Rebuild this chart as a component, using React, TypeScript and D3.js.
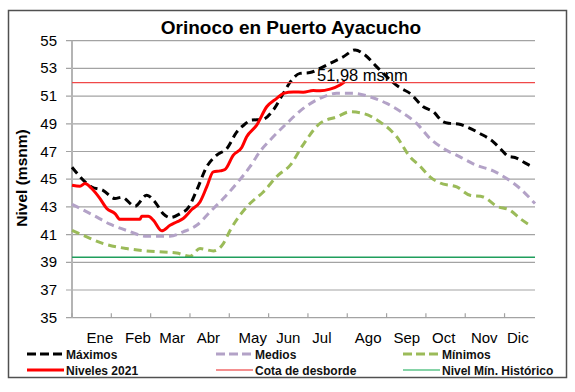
import { useRef, useEffect } from "react";
import * as d3 from "d3";

const months = ["Ene", "Feb", "Mar", "Abr", "May", "Jun", "Jul", "Ago", "Sep", "Oct", "Nov", "Dic"];
const monthLabelDays = [22, 52, 79, 107.5, 142.5, 170.5, 197, 233.5, 264, 293, 325, 351.5];
const yTicks = [35, 37, 39, 41, 43, 45, 47, 49, 51, 53, 55];

const maxDays = [0, 15.5, 24.4, 33.9, 39.2, 49.7, 58.9, 65.4, 72, 77.3, 85.1, 91.7, 98.3, 106.2, 114.1, 122, 129.8, 136, 141.7, 149.8, 158.7, 166.6, 173.2, 179.7, 187.6, 195.5, 203.4, 213.9, 223.1, 231, 238.9, 245.4, 258.6, 266.5, 276.9, 284.8, 292.7, 298, 304.5, 311.2, 321.6, 332.1, 338.7, 343.9, 349.2, 357.1, 364];
const maxVals = [45.86, 44.44, 44.2, 43.6, 43.7, 43.05, 43.85, 43.36, 42.5, 42.23, 42.5, 42.95, 44.2, 45.9, 46.74, 47.2, 48.4, 48.95, 49.27, 49.3, 50.0, 51.2, 52.16, 52.64, 52.7, 53.0, 53.36, 53.84, 54.33, 53.97, 53.24, 52.64, 51.6, 51.2, 50.23, 49.87, 49.14, 49.03, 48.98, 48.78, 48.3, 47.7, 47.1, 46.66, 46.57, 46.18, 45.85];

const medDays = [0, 16.8, 30, 43.1, 58.9, 77.3, 87.7, 98.3, 108.8, 119.3, 129.8, 140.3, 148.2, 156.1, 169.3, 182.3, 195.5, 208.7, 221.8, 234.9, 248.1, 261.2, 271.7, 282.2, 292.7, 305.9, 319, 332.1, 342.7, 353.2, 365];
const medVals = [43.19, 42.4, 41.75, 41.3, 40.88, 40.88, 41.2, 41.67, 42.64, 43.6, 44.69, 45.9, 47.0, 47.82, 49.03, 50.11, 50.84, 51.2, 51.2, 50.95, 50.47, 49.75, 49.03, 47.94, 47.22, 46.61, 46.0, 45.6, 45.05, 44.33, 43.24];

const minDays = [0, 11.6, 24.7, 43.1, 58.9, 72, 82.5, 93, 100.9, 111.4, 119.3, 124.6, 132.4, 140.3, 150.8, 162.6, 171.9, 182.3, 195.5, 208.7, 219.2, 229.6, 242.8, 256, 266.5, 274.3, 282.2, 290.1, 303.3, 313.8, 324.2, 334.8, 345.3, 353.2, 362.4];
const minVals = [41.3, 40.83, 40.35, 39.99, 39.82, 39.74, 39.67, 39.43, 39.99, 39.82, 40.35, 41.3, 42.4, 43.24, 44.08, 45.3, 46.0, 47.5, 49.03, 49.5, 49.87, 49.75, 49.14, 48.06, 46.6, 45.95, 45.17, 44.73, 44.44, 43.84, 43.72, 43.05, 42.76, 42.16, 41.6];

const niv2021Days = [0, 6.3, 10.2, 15.5, 22.1, 27.4, 33.9, 37.8, 45.7, 53.6, 54.9, 60.1, 64.1, 70.7, 77.3, 82.5, 87.7, 94.4, 100.9, 106.2, 111.4, 116.7, 120.6, 127.2, 133.8, 137.7, 145.6, 153.5, 161.4, 166.6, 174.5, 182.3, 190.2, 195.5, 203.4, 211.3, 215.2];
const niv2021Vals = [44.57, 44.5, 44.69, 44.33, 43.6, 42.88, 42.52, 42.1, 42.1, 42.1, 42.32, 42.32, 42.04, 41.27, 41.67, 41.91, 42.16, 42.81, 43.36, 44.44, 45.53, 45.6, 45.7, 46.74, 47.29, 48.06, 48.9, 50.23, 50.84, 51.2, 51.3, 51.28, 51.4, 51.38, 51.5, 51.8, 52.05];

const cotaDesborde = 51.98;
const nivelMinHistorico = 39.36;

const W = 575;
const H = 392;

export default function App() {
  const svgRef = useRef<SVGSVGElement>(null);

  useEffect(() => {
    if (!svgRef.current) return;
    const svg = d3.select(svgRef.current);
    svg.selectAll("*").remove();

    const font = "'Liberation Sans', Arial, sans-serif";
    const left = 72;
    const right = 535;
    const top = 40.7;
    const bottom = 317.7;

    const x = d3.scaleLinear().domain([0, 365]).range([left, right]);
    const y = d3.scaleLinear().domain([35, 55]).range([bottom, top]);

    // frame
    svg.append("rect")
      .attr("x", 8.5).attr("y", 10.5).attr("width", 558).attr("height", 367)
      .attr("fill", "#fff").attr("stroke", "#505050").attr("stroke-width", 1.5);

    // title
    svg.append("text")
      .attr("x", 291).attr("y", 34)
      .attr("text-anchor", "middle")
      .attr("font-family", font).attr("font-weight", "bold").attr("font-size", 19)
      .text("Orinoco en Puerto Ayacucho");

    // grid
    svg.append("g").selectAll("line")
      .data(yTicks)
      .join("line")
      .attr("x1", left - 6).attr("x2", right)
      .attr("y1", (d) => y(d)).attr("y2", (d) => y(d))
      .attr("stroke", "#a3a3a3").attr("stroke-width", 1.2);

    // y axis line
    svg.append("line")
      .attr("x1", left).attr("x2", left).attr("y1", top).attr("y2", bottom)
      .attr("stroke", "#b4b4b4").attr("stroke-width", 2);

    // y tick labels
    svg.append("g").selectAll("text")
      .data(yTicks)
      .join("text")
      .attr("x", 57).attr("y", (d) => y(d) + 5)
      .attr("text-anchor", "end")
      .attr("font-family", font).attr("font-size", 15)
      .text((d) => d);

    // x ticks every 31 days
    svg.append("g").selectAll("line")
      .data(d3.range(0, 366, 31))
      .join("line")
      .attr("x1", (d) => x(d)).attr("x2", (d) => x(d))
      .attr("y1", bottom - 4.5).attr("y2", bottom)
      .attr("stroke", "#a3a3a3").attr("stroke-width", 1.2);

    // month labels
    svg.append("g").selectAll("text")
      .data(months)
      .join("text")
      .attr("x", (_, i) => x(monthLabelDays[i]))
      .attr("y", 343)
      .attr("text-anchor", "middle")
      .attr("font-family", font).attr("font-size", 15)
      .text((d) => d);

    // axis title
    svg.append("text")
      .attr("transform", "translate(27,178) rotate(-90)")
      .attr("text-anchor", "middle")
      .attr("font-family", font).attr("font-weight", "bold").attr("font-size", 15.5)
      .text("Nivel (msnm)");

    const line = d3.line<[number, number]>()
      .x((d) => x(d[0]))
      .y((d) => y(d[1]))
      .curve(d3.curveMonotoneX);

    const series = [
      { days: maxDays, vals: maxVals, color: "#000000", dash: "8,5" },
      { days: medDays, vals: medVals, color: "#b3a2c7", dash: "8,5" },
      { days: minDays, vals: minVals, color: "#9bbb59", dash: "8,5" },
      { days: niv2021Days, vals: niv2021Vals, color: "#ff0000", dash: null },
    ];

    series.forEach((s) => {
      const pts = s.days.map((d, i) => [d, s.vals[i]] as [number, number]);
      svg.append("path")
        .attr("d", line(pts))
        .attr("fill", "none")
        .attr("stroke", s.color)
        .attr("stroke-width", 3)
        .attr("stroke-linejoin", "round")
        .attr("stroke-dasharray", s.dash);
    });

    // reference lines
    svg.append("line")
      .attr("x1", left).attr("x2", right)
      .attr("y1", y(cotaDesborde)).attr("y2", y(cotaDesborde))
      .attr("stroke", "#f04848").attr("stroke-width", 1.3);
    svg.append("line")
      .attr("x1", left).attr("x2", right)
      .attr("y1", y(nivelMinHistorico)).attr("y2", y(nivelMinHistorico))
      .attr("stroke", "#1f9e5c").attr("stroke-width", 1.5);

    svg.append("text")
      .attr("x", 317).attr("y", 81)
      .attr("font-family", font).attr("font-size", 16.5)
      .text(`${String(cotaDesborde).replace(".", ",")} msnm`);

    // legend
    const legend = [
      { label: "Máximos", color: "#000000", dash: "9,4", w: 3, col: 0, row: 0 },
      { label: "Medios", color: "#b3a2c7", dash: "9,4", w: 3, col: 1, row: 0 },
      { label: "Mínimos", color: "#9bbb59", dash: "9,4", w: 3, col: 2, row: 0 },
      { label: "Niveles 2021", color: "#ff0000", dash: null, w: 3, col: 0, row: 1 },
      { label: "Cota de desborde", color: "#f06a6a", dash: null, w: 1.5, col: 1, row: 1 },
      { label: "Nivel Mín. Histórico", color: "#5cc48a", dash: null, w: 1.5, col: 2, row: 1 },
    ];
    const colX = [27, 216, 403];
    const rowY = [354, 370];
    const lg = svg.append("g").selectAll("g").data(legend).join("g")
      .attr("transform", (d) => `translate(${colX[d.col]},${rowY[d.row]})`);
    lg.append("line")
      .attr("x1", 0).attr("x2", 37).attr("y1", 0).attr("y2", 0)
      .attr("stroke", (d) => d.color).attr("stroke-width", (d) => d.w)
      .attr("stroke-dasharray", (d) => d.dash);
    lg.append("text")
      .attr("x", 39).attr("y", 4.5)
      .attr("font-family", font).attr("font-weight", "bold").attr("font-size", 12)
      .attr("fill", "#111")
      .text((d) => d.label);
  }, []);

  return (
    <svg
      ref={svgRef}
      width={W}
      height={H}
      style={{ position: "absolute", left: 0, top: 0 }}
      role="img"
      aria-label="Orinoco en Puerto Ayacucho"
    />
  );
}
